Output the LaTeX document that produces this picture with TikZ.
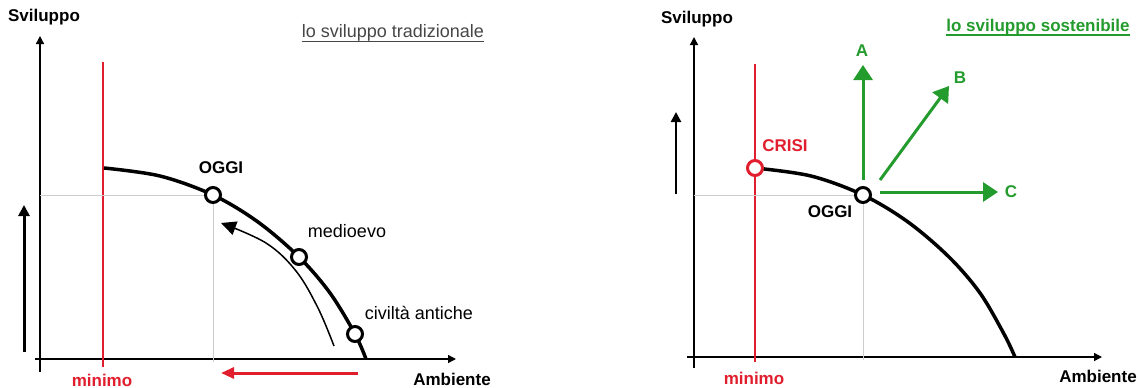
\documentclass[tikz,border=0pt]{standalone}
\usepackage{fontspec}
\setmainfont{Liberation Sans}
\usetikzlibrary{arrows.meta}
\definecolor{myred}{RGB}{225,30,45}
\definecolor{mygreen}{RGB}{35,155,45}
\definecolor{mygray}{RGB}{205,205,205}
\definecolor{titlegray}{RGB}{70,70,70}
\begin{document}
\begin{tikzpicture}[x=1pt,y=-1pt,
  axis/.style={line width=1.4pt, -{Triangle[length=8pt,width=8pt]}},
  lbl/.style={inner sep=0pt, font=\fontsize{17}{20}\selectfont\bfseries},
  txt/.style={inner sep=0pt, font=\fontsize{18}{21}\selectfont},
  curve/.style={line width=3.5pt},
  stage/.style={circle, draw=black, fill=white, line width=3pt, minimum size=15pt, inner sep=0pt},
  guide/.style={draw=mygray, line width=1pt},
  minline/.style={draw=myred, line width=1.4pt},
  garrow/.style={draw=mygreen, line width=3pt, -{Triangle[length=15pt,width=19pt]}, mygreen},
  uline/.style={line width=1.3pt}
]
\useasboundingbox (0,0) rectangle (1138,388);

% ---------------- left panel ----------------
\node[lbl] (sv1) at (44,17) {Sviluppo};
\coordinate (y1b) at (40,372); \coordinate (y1t) at (40,36);
\coordinate (x1l) at (35,359); \coordinate (x1r) at (456,359);
\draw[axis] (y1b) -- (y1t);
\draw[axis] (x1l) -- (x1r);
\node[lbl] (amb1) at (452,379) {Ambiente};
\coordinate (m1t) at (103,62); \coordinate (m1b) at (103,367);
\draw[minline] (m1t) -- (m1b);
\node[lbl, text=myred] (min1) at (102,380) {minimo};
\coordinate (g1a) at (40,195); \coordinate (g1b) at (213,362);
\draw[guide] (g1a) -| (g1b);
\draw[curve] plot[smooth, tension=0.55] coordinates {(104,168) (160,176) (213,195) (258,222) (299,257) (330,293) (355,334) (366,359)};
\node[stage] (oggi1) at (213,195) {};
\node[stage] (med1) at (299,257) {};
\node[stage] (civ1) at (355,334) {};
\node[lbl] (loggi1) at (221,168) {OGGI};
\node[txt] (lmed1) at (347,231) {medioevo};
\node[txt] (lciv1) at (419,313) {civiltà antiche};
\draw[line width=1.5pt, -{Triangle[length=15pt,width=14pt]}] plot[smooth, tension=0.6] coordinates {(334,346) (318,308) (296,271) (266,243) (221,223)};
\coordinate (r1s) at (358,373); \coordinate (r1e) at (221,373);
\draw[line width=3pt, myred, -{Triangle[length=13pt,width=11pt]}] (r1s) -- (r1e);
\coordinate (k1s) at (24,352); \coordinate (k1e) at (24,205);
\draw[line width=3pt, -{Triangle[length=11pt,width=11pt]}] (k1s) -- (k1e);
\node[txt, text=titlegray] (t1) at (393,33) {lo sviluppo tradizionale};
\draw[uline, titlegray] ([yshift=-3.5pt]t1.base west) -- ([yshift=-3.5pt]t1.base east);

% ---------------- right panel ----------------
\node[lbl] (sv2) at (697,19) {Sviluppo};
\coordinate (y2b) at (694,368); \coordinate (y2t) at (694,37);
\coordinate (x2l) at (687,357); \coordinate (x2r) at (1102,357);
\draw[axis] (y2b) -- (y2t);
\draw[axis] (x2l) -- (x2r);
\node[lbl] (amb2) at (1098,376) {Ambiente};
\coordinate (m2t) at (755,64); \coordinate (m2b) at (755,362);
\draw[minline] (m2t) -- (m2b);
\node[lbl, text=myred] (min2) at (754,378) {minimo};
\coordinate (g2a) at (694,195); \coordinate (g2b) at (863,360);
\draw[guide] (g2a) -| (g2b);
\draw[curve] plot[smooth, tension=0.55] coordinates {(755,168) (811,176) (863,195) (908,222) (949,257) (980,293) (1004,334) (1015,357)};
\node[stage, draw=myred] (crisi) at (755,168) {};
\node[stage] (oggi2) at (863,195) {};
\node[lbl, text=myred] (lcrisi) at (785,146) {CRISI};
\node[lbl] (loggi2) at (830,212) {OGGI};
\coordinate (aS) at (863,180); \coordinate (aE) at (863,65);
\coordinate (bS) at (880,180); \coordinate (bE) at (949,86);
\coordinate (cS) at (880,192); \coordinate (cE) at (998,192);
\draw[garrow] (aS) -- (aE);
\draw[garrow] (bS) -- (bE);
\draw[garrow] (cS) -- (cE);
\node[lbl, text=mygreen] (la) at (862,51) {A};
\node[lbl, text=mygreen] (lb) at (960,78) {B};
\node[lbl, text=mygreen] (lc) at (1011,192) {C};
\coordinate (k2s) at (676,194); \coordinate (k2e) at (676,112);
\draw[line width=2.8pt, -{Triangle[length=10pt,width=10pt]}] (k2s) -- (k2e);
\node[lbl, text=mygreen] (t2) at (1038,27) {lo sviluppo sostenibile};
\draw[uline, mygreen] ([yshift=-3.5pt]t2.base west) -- ([yshift=-3.5pt]t2.base east);
\end{tikzpicture}
\end{document}
